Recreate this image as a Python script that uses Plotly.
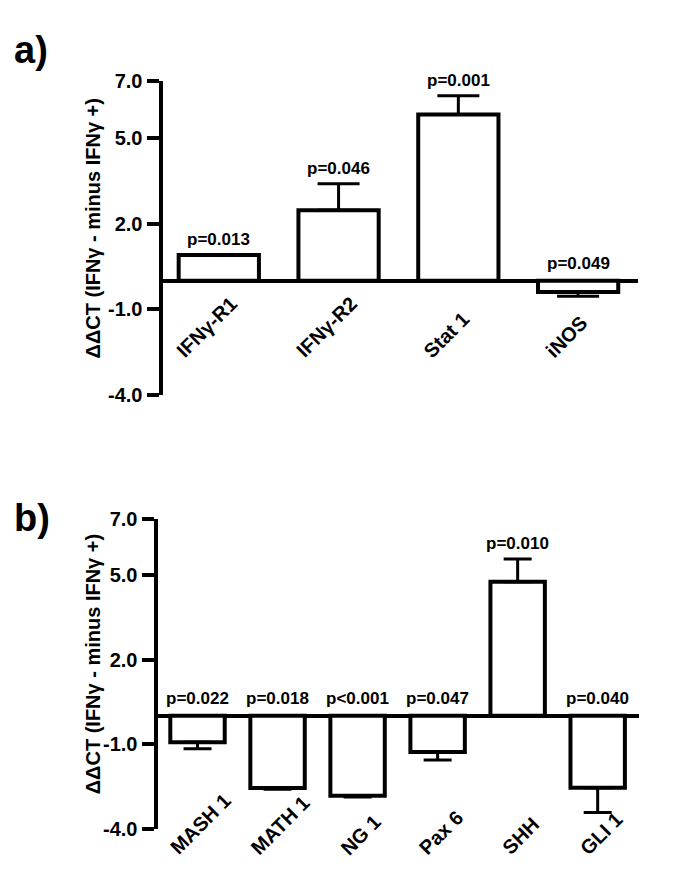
import plotly.graph_objects as go

# ---------------- data ----------------
top_categories = ["IFNγ-R1", "IFNγ-R2", "Stat 1", "iNOS"]
top_values = [0.90, 2.47, 5.83, -0.40]
top_errors = [0.0, 0.93, 0.66, 0.15]
top_pvalues = ["p=0.013", "p=0.046", "p=0.001", "p=0.049"]

bottom_categories = ["MASH 1", "MATH 1", "NG 1", "Pax 6", "SHH", "GLI 1"]
bottom_values = [-0.94, -2.56, -2.84, -1.28, 4.76, -2.55]
bottom_errors = [0.23, 0.05, 0.04, 0.29, 0.81, 0.88]
bottom_pvalues = ["p=0.022", "p=0.018", "p<0.001", "p=0.047", "p=0.010", "p=0.040"]

y_tick_values = [7.0, 5.0, 2.0, -1.0, -4.0]
y_tick_labels = ["7.0", "5.0", "2.0", "-1.0", "-4.0"]
y_title = "ΔΔCT (IFNγ - minus IFNγ +)"
panel_labels = ["a)", "b)"]

FONT = "Liberation Sans, Arial, Helvetica, sans-serif"
PAGE_W, PAGE_H = 685, 895
OFF = 8  # default body margin of the html page
W, H = PAGE_W - 2 * OFF, PAGE_H - 2 * OFF


def px(xp):
    return (xp - OFF) / W


def py(yp):
    return 1 - (yp - OFF) / H


fig = go.Figure()

panels = [
    dict(cats=top_categories, vals=top_values, errs=top_errors, pv=top_pvalues,
         xa="x", ya="y", xdom=[px(162.5), px(638)], ydom=[py(393.3), py(71.7)],
         xrange=[-0.47, 3.5], bw=0.67, cap=21, lab_dy=-84, lab_dx=-12,
         panel_y=py(40)),
    dict(cats=bottom_categories, vals=bottom_values, errs=bottom_errors, pv=bottom_pvalues,
         xa="x2", ya="y2", xdom=[px(157.5), px(639.3)], ydom=[py(838.3), py(520.5)],
         xrange=[-0.5, 5.52], bw=0.68, cap=14, lab_dy=-146, lab_dx=3,
         panel_y=py(520)),
]

annotations = []
for i, p in enumerate(panels):
    up = [e if v > 0 else 0 for v, e in zip(p["vals"], p["errs"])]
    down = [e if v < 0 else 0 for v, e in zip(p["vals"], p["errs"])]
    fig.add_trace(go.Bar(
        x=p["cats"], y=p["vals"], xaxis=p["xa"], yaxis=p["ya"],
        width=p["bw"],
        marker=dict(color="white", line=dict(color="black", width=4)),
        error_y=dict(type="data", symmetric=False, array=up, arrayminus=down,
                     color="black", thickness=3, width=p["cap"]),
        showlegend=False, hoverinfo="skip",
    ))
    xref, yref = p["xa"], p["ya"]
    for c, v, e, t in zip(p["cats"], p["vals"], p["errs"], p["pv"]):
        top = v + e if v > 0 else 0
        annotations.append(dict(
            x=c, y=top, xref=xref, yref=yref, text=t, showarrow=False,
            xanchor="center", yanchor="bottom", yshift=4 if v > 0 else 6,
            font=dict(family=FONT, size=17, color="black", weight="bold"),
        ))
        annotations.append(dict(
            x=c, y=0, xref=xref, yref=yref, text=c, showarrow=False,
            textangle=-45, xanchor="center", yanchor="bottom",
            yshift=p["lab_dy"], xshift=p["lab_dx"],
            font=dict(family=FONT, size=20, color="black", weight="bold"),
        ))
    # y-axis title
    annotations.append(dict(
        x=px(93), xref="paper", y=0.53, yref=yref + " domain", text=y_title,
        textangle=-90, showarrow=False, xanchor="center", yanchor="middle",
        font=dict(family=FONT, size=20, color="black", weight="bold"),
    ))
    # panel label
    annotations.append(dict(
        x=px(12), xref="paper", y=p["panel_y"], yref="paper", text=panel_labels[i],
        showarrow=False, xanchor="left", yanchor="middle",
        font=dict(family=FONT, size=38, color="black", weight="bold"),
    ))

common_y = dict(
    range=[-4, 7], tickvals=y_tick_values, ticktext=y_tick_labels,
    ticks="outside", ticklen=12, tickwidth=4, tickcolor="black",
    showline=True, linewidth=4, linecolor="black",
    zeroline=True, zerolinewidth=4, zerolinecolor="black",
    showgrid=False,
    tickfont=dict(family=FONT, size=20, color="black", weight="bold"),
)
common_x = dict(type="category", showline=False, showticklabels=False,
                ticks="", showgrid=False, zeroline=False)

fig.update_layout(
    width=W, height=H,
    margin=dict(l=0, r=0, t=0, b=0),
    paper_bgcolor="white", plot_bgcolor="white",
    showlegend=False,
    xaxis=dict(domain=panels[0]["xdom"], range=panels[0]["xrange"], anchor="y",
               categoryarray=top_categories, **common_x),
    yaxis=dict(domain=panels[0]["ydom"], anchor="x", **common_y),
    xaxis2=dict(domain=panels[1]["xdom"], range=panels[1]["xrange"], anchor="y2",
                categoryarray=bottom_categories, **common_x),
    yaxis2=dict(domain=panels[1]["ydom"], anchor="x2", **common_y),
    annotations=annotations,
)

fig.write_html("out.html")
